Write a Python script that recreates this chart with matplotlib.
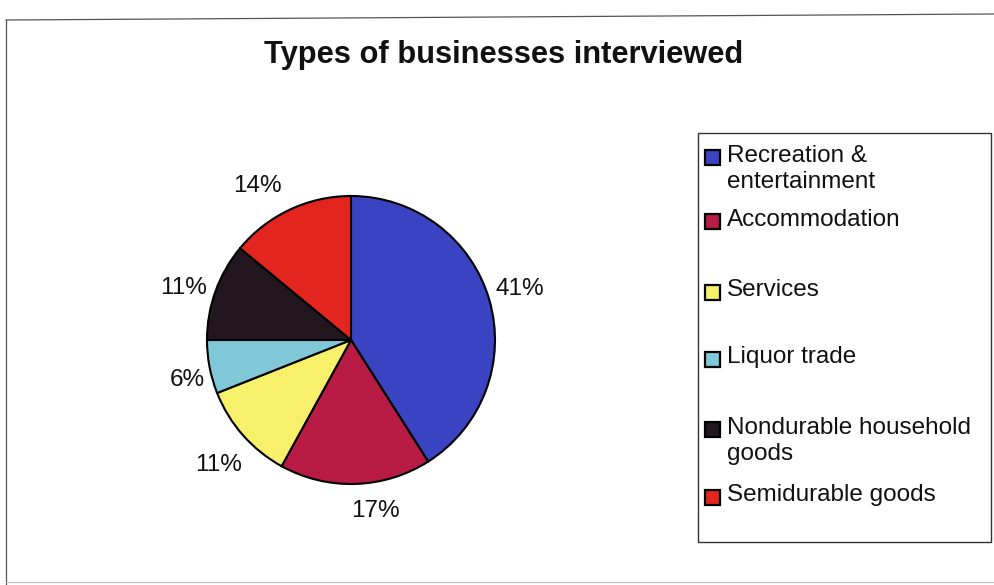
import matplotlib.pyplot as plt
from matplotlib.patches import Rectangle
from matplotlib.lines import Line2D

categories = ["Recreation &\nentertainment", "Accommodation", "Services",
              "Liquor trade", "Nondurable household\ngoods", "Semidurable goods"]
shares = [41, 17, 11, 6, 11, 14]
colors = ["#3a44c2", "#b81c45", "#f6f06a", "#80c8d8", "#22161f", "#e2261f"]

# small pixel nudges for the percentage labels (x right, y down)
label_nudge = [(-1, -2), (19, -6), (0, 8), (10, 7), (-1, 8), (-18, 6)]

W, H = 994, 585
plt.rcParams['font.family'] = ['Liberation Sans', 'DejaVu Sans']
fig = plt.figure(figsize=(W / 100, H / 100), dpi=100)


def fx(px):
    return px / W


def fy(py):
    return 1 - py / H


# outer chart-area border
border = dict(color="#555555", lw=0.9, transform=fig.transFigure)
fig.add_artist(Line2D([fx(6), fx(994)], [fy(20), fy(14)], **border))
fig.add_artist(Line2D([fx(6), fx(6)], [fy(20), fy(585)], **border))
fig.add_artist(Line2D([fx(6), fx(994)], [fy(582), fy(582)], color="#bbbbbb",
                      lw=0.8, transform=fig.transFigure))

fig.text(fx(504), fy(55), "Types of businesses interviewed", ha="center",
         va="center", fontsize=22.2, fontweight="bold", color="#111111")

# pie
cx, cy, r = 351, 340, 144
ax = fig.add_axes([fx(cx - r), fy(cy + r), 2 * r / W, 2 * r / H])
wedges, _, autotexts = ax.pie(
    shares, colors=colors, startangle=90, counterclock=False,
    autopct=lambda p: f"{p:.0f}%", pctdistance=1.23,
    wedgeprops=dict(edgecolor="black", linewidth=1.5),
    textprops=dict(fontsize=17.5, color="#111111"))
ax.set_xlim(-1, 1)
ax.set_ylim(-1, 1)
ax.set_aspect("equal")
ax.axis("off")

for t, (dx, dy) in zip(autotexts, label_nudge):
    x, y = t.get_position()
    t.set_position((x + dx / r, y - dy / r))

# legend box
lx0, ly0, lx1, ly1 = 698, 133, 991, 542
fig.add_artist(Rectangle((fx(lx0), fy(ly1)), fx(lx1) - fx(lx0), fy(ly0) - fy(ly1),
                         transform=fig.transFigure, facecolor="white",
                         edgecolor="#333333", lw=1.0))
row_y = [155, 220, 290, 357, 427, 495]
sq = 15
for label, col, y in zip(categories, colors, row_y):
    fig.add_artist(Rectangle((fx(705), fy(y + 2 + sq / 2)), sq / W, sq / H,
                             transform=fig.transFigure, facecolor=col,
                             edgecolor="black", lw=1.6))
    if "\n" in label:
        fig.text(fx(727), fy(y - 10), label, ha="left", va="top",
                 fontsize=17.5, color="#111111", linespacing=1.25)
    else:
        fig.text(fx(727), fy(y), label, ha="left", va="center",
                 fontsize=17.5, color="#111111")

fig.savefig("out.png", dpi=100, facecolor="white")
